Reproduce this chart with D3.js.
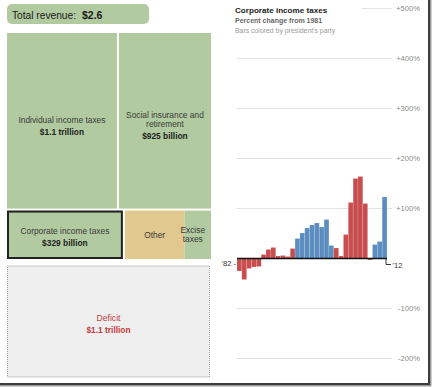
<!DOCTYPE html>
<html>
<head>
<meta charset="utf-8">
<script src="https://cdn.jsdelivr.net/npm/d3@7"></script>
<style>
  html, body { margin: 0; padding: 0; background: #fff; }
  svg { display: block; font-family: "Liberation Sans", Arial, sans-serif; }
</style>
</head>
<body>
<svg id="chart" width="432" height="387"></svg>
<script>
// ---------- DATA ----------
const totalRevenueLabel = "$2.6";
const revenueRows = ["top", "bottom"];
const revenueNames = ["Individual income taxes", "Social insurance and retirement", "Corporate income taxes", "Other", "Excise taxes"];
const revenueRow = ["top", "top", "bottom", "bottom", "bottom"];
const revenueValues = [1100, 925, 329, 172, 74]; // billions
const revenueValueLabels = ["$1.1 trillion", "$925 billion", "$329 billion", "", ""];
const deficitLabel = "Deficit";
const deficitValueLabel = "$1.1 trillion";

const years = [1982,1983,1984,1985,1986,1987,1988,1989,1990,1991,1992,1993,1994,1995,1996,1997,
               1998,1999,2000,2001,2002,2003,2004,2005,2006,2007,2008,2009,2010,2011,2012];
const pctChange = [-25,-42,-20,-17,-16,8,18,22,5,6,4,20,40,51,61,67,
                   71,63,78,26,21,5,48,112,160,164,110,-3,28,34,123];
const party = ["R","R","R","R","R","R","R","R","R","R","R","R","D","D","D","D",
               "D","D","D","D","R","R","R","R","R","R","R","R","D","D","D"];
const tickValues = [500, 400, 300, 200, 100, -100, -200];
const tickLabels = ["+500%", "+400%", "+300%", "+200%", "+100%", "-100%", "-200%"];

// ---------- STYLE ----------
const GREEN = "#b1caa0", TAN = "#e1c88f", RED = "#c84d4e", BLUE = "#5b8dc0";
const svg = d3.select("#chart");

// ---------- LEFT: treemap ----------
const tm = { x0: 7, y0: 33, x1: 211, y1: 259 };
const rootData = {
  name: "root",
  children: revenueRows.map(r => ({
    name: r,
    children: revenueNames.map((n, i) => ({ name: n, value: revenueValues[i], label: revenueValueLabels[i], row: revenueRow[i] }))
      .filter(d => d.row === r)
  }))
};
const root = d3.hierarchy(rootData).sum(d => d.value || 0);
d3.treemap()
  .size([tm.x1 - tm.x0, tm.y1 - tm.y0])
  .paddingInner(2)
  .tile((node, x0, y0, x1, y1) => node.depth === 0
      ? d3.treemapSlice(node, x0, y0, x1, y1)
      : d3.treemapDice(node, x0, y0, x1, y1))(root);

const g = svg.append("g").attr("transform", `translate(${tm.x0},${tm.y0})`);
const leaves = root.leaves();
// Other and Excise abut without a gap in the original
const other = leaves.find(d => d.data.name === "Other");
const excise = leaves.find(d => d.data.name === "Excise taxes");
g.selectAll("rect.leaf").data(leaves).join("rect")
  .attr("class", "leaf")
  .attr("x", d => d === excise ? d.x0 - 2 : d.x0).attr("y", d => d.y0)
  .attr("width", d => (d.x1 - d.x0) + (d === excise ? 2 : 0)).attr("height", d => d.y1 - d.y0)
  .attr("fill", d => d === other ? TAN : GREEN);

// highlight corporate
const corp = leaves.find(d => d.data.name === "Corporate income taxes");
g.append("rect")
  .attr("x", corp.x0 + 1).attr("y", corp.y0 + 1)
  .attr("width", corp.x1 - corp.x0 - 2).attr("height", corp.y1 - corp.y0 - 2)
  .attr("fill", "none").attr("stroke", "#222").attr("stroke-width", 2);

function labelLines(d) {
  const n = d.data.name;
  if (n === "Social insurance and retirement") return ["Social insurance and", "retirement"];
  if (n === "Excise taxes") return ["Excise", "taxes"];
  return [n];
}
leaves.forEach(d => {
  const cx = (d.x0 + d.x1) / 2, cy = (d.y0 + d.y1) / 2;
  const lines = labelLines(d);
  const hasVal = !!d.data.label;
  const n = d.data.name;
  const tg = g.append("g").attr("fill", "#3a3a3a").attr("text-anchor", "middle");
  let yy;
  if (n === "Individual income taxes") yy = cy + 2.5;
  else if (n === "Social insurance and retirement") yy = cy - 3;
  else if (n === "Corporate income taxes") yy = cy - 0.5;
  else if (n === "Other") yy = cy + 3;
  else yy = cy - 1.5;
  const xx = n === "Excise taxes" ? cx - 6 : cx;
  lines.forEach(l => {
    tg.append("text").attr("x", xx).attr("y", yy).attr("font-size", 8.4).text(l);
    yy += n === "Excise taxes" ? 8.7 : 9;
  });
  if (hasVal) {
    tg.append("text").attr("x", xx).attr("y", yy + 3.2).attr("font-size", 8.4)
      .attr("font-weight", "bold").attr("fill", "#222").text(d.data.label);
  }
});

// total revenue pill
svg.append("rect").attr("x", 7).attr("y", 4).attr("width", 142).attr("height", 20)
  .attr("rx", 5).attr("fill", GREEN);
const tt = svg.append("text").attr("x", 12).attr("y", 18.5).attr("fill", "#1a1a1a");
tt.append("tspan").attr("font-size", 10.2).text("Total revenue:");
tt.append("tspan").attr("font-size", 10.5).attr("font-weight", "bold").attr("dx", 6).text(totalRevenueLabel);

// deficit box
const def = { x0: 7.5, y0: 266, x1: 209.5, y1: 377 };
svg.append("rect").attr("x", def.x0).attr("y", def.y0)
  .attr("width", def.x1 - def.x0).attr("height", def.y1 - def.y0)
  .attr("fill", "#efefef").attr("stroke", "#9a9a9a").attr("stroke-width", 1)
  .attr("stroke-dasharray", "1,1");
svg.append("text").attr("x", (def.x0 + def.x1) / 2).attr("y", 320.5)
  .attr("text-anchor", "middle").attr("font-size", 8.6).attr("fill", "#c43c40").text(deficitLabel);
svg.append("text").attr("x", (def.x0 + def.x1) / 2).attr("y", 332.5)
  .attr("text-anchor", "middle").attr("font-size", 8.4).attr("font-weight", "bold")
  .attr("fill", "#c43c40").text(deficitValueLabel);

// ---------- RIGHT: bar chart ----------
const x = d3.scaleBand().domain(years).range([237, 387]).padding(0);
const y = d3.scaleLinear().domain([-200, 500]).range([358.5, 8.5]);

// gridlines & tick labels
const ticks = tickValues.map((v, i) => ({ v, label: tickLabels[i] }));
svg.append("g").selectAll("line").data(ticks).join("line")
  .attr("x1", d => d.v === 500 ? 362 : 236.5).attr("x2", 392)
  .attr("y1", d => y(d.v)).attr("y2", d => y(d.v))
  .attr("stroke", "#e3e3e3").attr("stroke-width", 1);
svg.append("g").selectAll("text").data(ticks).join("text")
  .attr("x", 420).attr("y", d => y(d.v) + 2.7)
  .attr("text-anchor", "end").attr("font-size", 7.6).attr("fill", "#8a8a8a")
  .text(d => d.label);

// bars
const bars = years.map((yr, i) => ({ yr, v: pctChange[i], p: party[i] }));
svg.append("g").selectAll("rect").data(bars).join("rect")
  .attr("x", d => x(d.yr)).attr("width", x.bandwidth())
  .attr("y", d => y(Math.max(0, d.v)))
  .attr("height", d => Math.abs(y(d.v) - y(0)))
  .attr("fill", d => d.p === "R" ? RED : BLUE)
  .attr("stroke", "rgba(255,255,255,0.3)").attr("stroke-width", 0.5);

// zero axis
svg.append("line").attr("x1", x(years[0])).attr("x2", x(years[years.length - 1]) + x.bandwidth())
  .attr("y1", y(0)).attr("y2", y(0)).attr("stroke", "#111").attr("stroke-width", 1.4);
const xe = x(years[years.length - 1]) + x.bandwidth() - 1;
svg.append("path").attr("d", `M${xe},${y(0)}V${y(0) + 6}H${xe + 5}`)
  .attr("fill", "none").attr("stroke", "#333").attr("stroke-width", 1);
svg.append("text").attr("x", 236).attr("y", y(0) + 7.5).attr("text-anchor", "end")
  .attr("font-size", 7.6).attr("fill", "#333").text("'82 -");
svg.append("text").attr("x", xe + 6.5).attr("y", y(0) + 9).attr("font-size", 7.6)
  .attr("fill", "#333").text("'12");

// titles
svg.append("text").attr("x", 235).attr("y", 13).attr("font-size", 8.1)
  .attr("font-weight", "bold").attr("fill", "#222").text("Corporate income taxes");
svg.append("text").attr("x", 235).attr("y", 23).attr("font-size", 7)
  .attr("font-weight", "bold").attr("fill", "#666").text("Percent change from 1981");
svg.append("text").attr("x", 235).attr("y", 32.5).attr("font-size", 6.9)
  .attr("fill", "#9a9a9a").text("Bars colored by president's party");

// screenshot frame shadow
svg.append("rect").attr("x", 428).attr("y", 0).attr("width", 2).attr("height", 385).attr("fill", "#3d3d3d");
svg.append("rect").attr("x", 430).attr("y", 0).attr("width", 1.5).attr("height", 386).attr("fill", "#9a9a9a");
svg.append("rect").attr("x", 0).attr("y", 383).attr("width", 430).attr("height", 2).attr("fill", "#3d3d3d");
svg.append("rect").attr("x", 0).attr("y", 385).attr("width", 431).attr("height", 1.5).attr("fill", "#9a9a9a");
</script>
</body>
</html>
